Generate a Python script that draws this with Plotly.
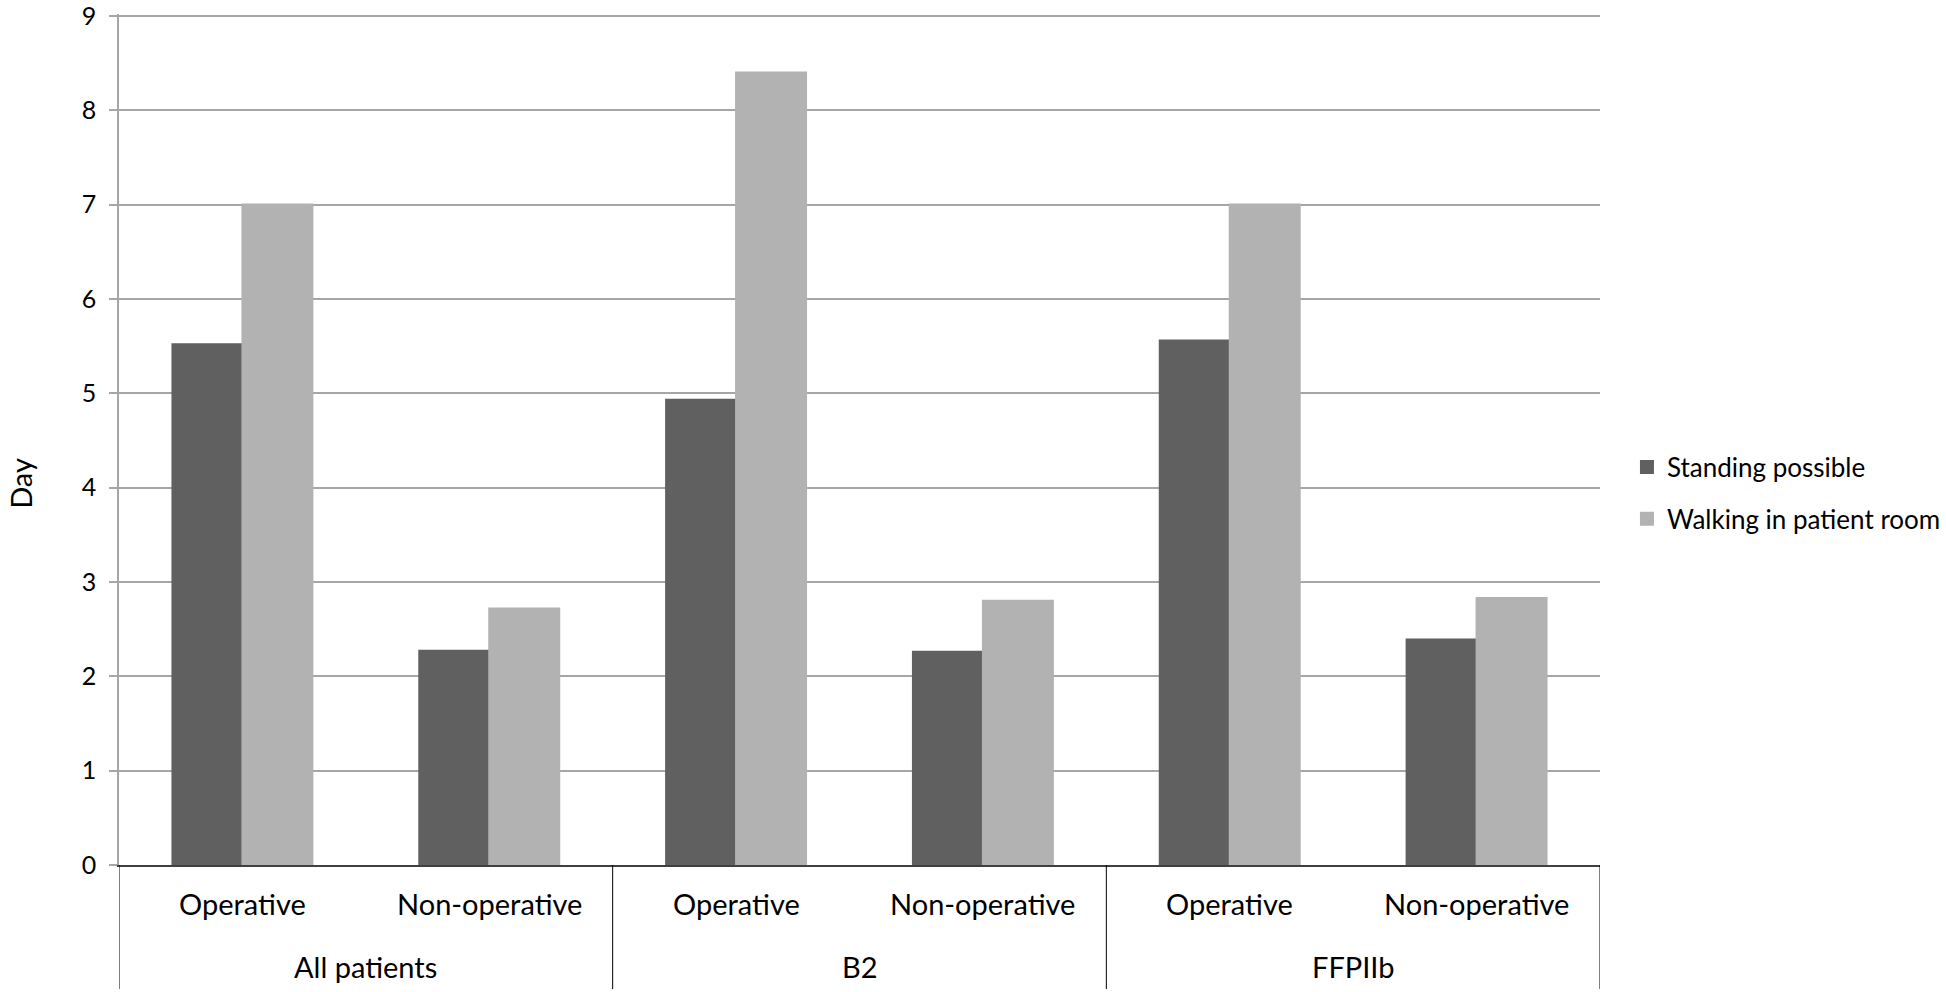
import plotly.graph_objects as go

groups = ["All patients", "All patients", "B2", "B2", "FFPIIb", "FFPIIb"]
subgroups = ["Operative", "Non-operative", "Operative", "Non-operative", "Operative", "Non-operative"]
standing = [5.52, 2.27, 4.93, 2.26, 5.56, 2.39]
walking = [7.0, 2.72, 8.40, 2.80, 7.0, 2.83]
y_ticks = list(range(0, 10))

FONT = "Lato"
LBL = 29
DARK, LIGHT = "#606060", "#b2b2b2"
pos = list(range(len(subgroups)))

fig = go.Figure()
fig.add_trace(go.Bar(x=pos, y=standing, name="Standing possible", legendgroup="a",
                     marker=dict(color=DARK, line=dict(width=2, color=DARK))))
fig.add_trace(go.Bar(x=pos, y=walking, name="Walking in patient room", legendgroup="b",
                     marker=dict(color=LIGHT, line=dict(width=2, color=LIGHT))))

annotations = []
shapes = []
y_inner, y_outer, y_bottom = -0.0455, -0.1195, -0.1458
for i, s in enumerate(subgroups):
    annotations.append(dict(x=i, y=y_inner, xref="x", yref="paper", text=s, showarrow=False,
                            font=dict(size=LBL, family=FONT, color="black"), yanchor="middle"))
bounds = [-0.5]
start = 0
for i in range(1, len(groups) + 1):
    if i == len(groups) or groups[i] != groups[start]:
        annotations.append(dict(x=(start + i - 1) / 2, y=y_outer, xref="x", yref="paper",
                                text=groups[start], showarrow=False,
                                font=dict(size=LBL, family=FONT, color="black"), yanchor="middle"))
        bounds.append(i - 0.5)
        start = i
for b in bounds:
    shapes.append(dict(type="line", x0=b, x1=b, y0=0, y1=y_bottom, xref="x", yref="paper",
                       line=dict(color="black", width=1)))

annotations.append(dict(x=-0.0662, y=0.449, xref="paper", yref="paper", text="Day",
                        textangle=-90, showarrow=False, xanchor="center",
                        font=dict(size=LBL, family=FONT, color="black")))

fig.update_layout(
    width=1946, height=992,
    margin=dict(l=119, r=346, t=14, b=127, autoexpand=False),
    paper_bgcolor="white", plot_bgcolor="white",
    barmode="group", bargap=0.433, bargroupgap=0,
    font=dict(family=FONT, size=LBL, color="black"),
    legend=dict(x=1.0182, xanchor="left", y=0.437, yanchor="middle",
                font=dict(size=26), tracegroupgap=15),
    showlegend=True,
    annotations=annotations, shapes=shapes,
)
fig.update_yaxes(
    range=[0, 9.02], tickvals=y_ticks, showgrid=True, gridcolor="#a6a6a6", gridwidth=1.5,
    zeroline=False,
    showline=True, linecolor="#a6a6a6", linewidth=1.5,
    ticks="outside", ticklen=8, tickcolor="#a6a6a6", tickwidth=1.5,
    tickfont=dict(size=25), ticklabeloverflow="allow", ticklabelstandoff=8,
)
fig.update_xaxes(
    range=[-0.5, len(subgroups) - 0.5], showticklabels=False, showgrid=False, zeroline=False,
    showline=True, linecolor="#404040", linewidth=2, ticks="",
)
fig.write_html("out.html", config={"displayModeBar": False},
               post_script="document.body.style.margin='0';document.body.style.overflow='hidden';")
